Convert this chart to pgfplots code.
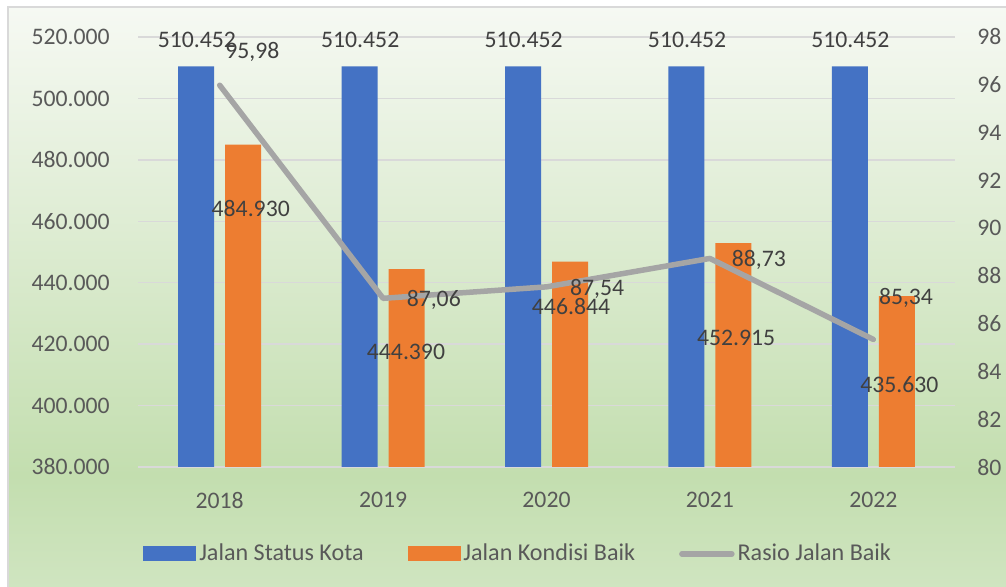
\documentclass[border=0pt]{standalone}
\usepackage{pgfplots}
\pgfplotsset{compat=1.18}
\usepackage{fontspec}
\setmainfont{Carlito}
\definecolor{cblue}{HTML}{4472C4}
\definecolor{corange}{HTML}{ED7D31}
\definecolor{cgray}{HTML}{A5A5A5}
\definecolor{gridc}{HTML}{D9D9D9}
\definecolor{ticktext}{HTML}{595959}
\definecolor{labeltext}{HTML}{404040}
\definecolor{bgtop}{HTML}{F6F9F3}
\definecolor{bgmid}{HTML}{C3DEAF}
\definecolor{bgbot}{HTML}{D0E5C1}
\pgfdeclareverticalshading{bgshade}{100bp}{color(0bp)=(bgbot); color(25bp)=(bgbot); color(35bp)=(bgmid); color(75bp)=(bgtop); color(100bp)=(bgtop)}
\begin{document}
\begin{tikzpicture}[x=0.5bp,y=0.5bp,font=\fontsize{11.9}{14}\selectfont]
\shade[shading=bgshade] (8,-5) rectangle (1012,580);
\draw[gridc, line width=0.75bp] (8,-5) -- (8,580) -- (1012,580);

\begin{axis}[at={(69bp,60bp)}, anchor=south west, scale only axis,
  width=408.5bp, height=215bp,
  xmin=-0.5, xmax=4.5, ymin=380000, ymax=520000, ytick distance=20000,
  xtick={0,1,2,3,4}, xticklabels={2018,2019,2020,2021,2022},
  axis line style={draw=none}, major tick length=0pt,
  ymajorgrids, grid style={gridc, line width=0.75bp},
  scaled y ticks=false,
  /pgf/number format/assume math mode=true,
  tick label style={text=ticktext, font=\fontsize{11.9}{14}\selectfont},
  y tick label style={inner sep=0pt, xshift=-14bp, /pgf/number format/fixed, /pgf/number format/precision=0, /pgf/number format/1000 sep={.}},
  x tick label style={inner sep=0pt, yshift=-12.5bp},
  clip=false]
\addplot[ybar, bar width=18bp, bar shift=-11.75bp, fill=cblue, draw=none] coordinates {(0,510452) (1,510452) (2,510452) (3,510452) (4,510452)};
\addplot[ybar, bar width=18bp, bar shift=11.75bp, fill=corange, draw=none] coordinates {(0,484930) (1,444390) (2,446844) (3,452915) (4,435630)};
\end{axis}

\begin{axis}[at={(69bp,60bp)}, anchor=south west, scale only axis,
  width=408.5bp, height=215bp,
  xmin=-0.5, xmax=4.5, ymin=80, ymax=98, ytick distance=2,
  axis y line*=right, axis x line=none,
  axis line style={draw=none}, major tick length=0pt,
  /pgf/number format/assume math mode=true,
  tick label style={text=ticktext, font=\fontsize{11.9}{14}\selectfont},
  y tick label style={inner sep=0pt, xshift=11bp},
  clip=false,
  legend columns=3,
  legend style={draw=none, fill=none, at={(0.466,-0.202)}, anchor=center,
    font=\fontsize{12.1}{14}\selectfont, text=ticktext,
    nodes={inner sep=1.5bp},
    /tikz/every even column/.append style={column sep=20.5bp}},
  ]
\addlegendimage{legend image code/.code={\fill[cblue] (0bp,-3.5bp) rectangle (26bp,3.5bp);}}
\addlegendentry{Jalan Status Kota}
\addlegendimage{legend image code/.code={\fill[corange] (0bp,-3.5bp) rectangle (26bp,3.5bp);}}
\addlegendentry{Jalan Kondisi Baik}
\addplot[cgray, line width=2.75bp, line join=round, line cap=round, mark=none,
  legend image code/.code={\draw[cgray, line width=2.75bp, line cap=round] (1.5bp,0) -- (26.5bp,0);}]
  coordinates {(0,95.98) (1,87.06) (2,87.54) (3,88.73) (4,85.34)};
\addlegendentry{Rasio Jalan Baik}

\begin{scope}[every node/.style={text=labeltext, inner sep=0pt, font=\fontsize{11.9}{14}\selectfont}]
\node at (axis cs:-0.14,97.87) {510.452};
\node at (axis cs:0.86,97.87) {510.452};
\node at (axis cs:1.86,97.87) {510.452};
\node at (axis cs:2.86,97.87) {510.452};
\node at (axis cs:3.86,97.87) {510.452};
\node at (axis cs:0.19,90.84) {484.930};
\node at (axis cs:1.14,84.81) {444.390};
\node at (axis cs:2.15,86.70) {446.844};
\node at (axis cs:3.16,85.40) {452.915};
\node at (axis cs:4.16,83.43) {435.630};
\node at (axis cs:0.20,97.37) {95,98};
\node at (axis cs:1.31,86.99) {87,06};
\node at (axis cs:2.31,87.45) {87,54};
\node at (axis cs:3.30,88.67) {88,73};
\node at (axis cs:4.20,87.07) {85,34};
\end{scope}
\end{axis}
\pgfresetboundingbox
\path (0,0) rectangle (1006,587);
\end{tikzpicture}
\end{document}
